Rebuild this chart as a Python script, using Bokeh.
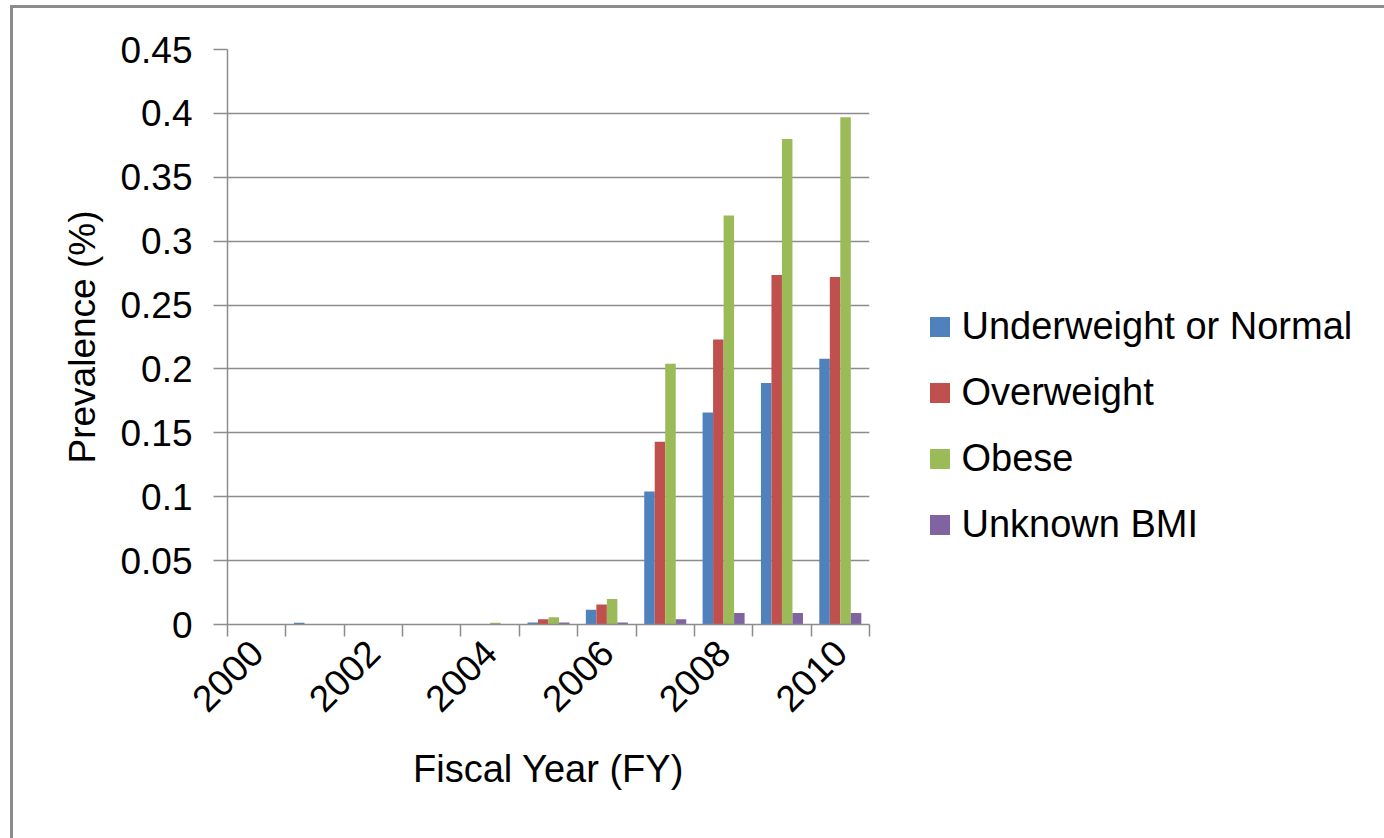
from bokeh.plotting import figure
from bokeh.layouts import row
from bokeh.models import (Range1d, FixedTicker, Legend, LegendItem, ColumnDataSource)
from bokeh.transform import dodge
from bokeh.embed import file_html
from bokeh.resources import INLINE

# ---- data ----
years = [2000, 2001, 2002, 2003, 2004, 2005, 2006, 2007, 2008, 2009, 2010]
underweight_normal = [0, 0.0013, 0, 0, 0, 0.0015, 0.0115, 0.104, 0.166, 0.189, 0.208]
overweight = [0, 0, 0, 0, 0, 0.0042, 0.0156, 0.143, 0.223, 0.2735, 0.272]
obese = [0, 0, 0, 0, 0.0013, 0.0057, 0.020, 0.204, 0.320, 0.380, 0.397]
unknown_bmi = [0, 0, 0, 0, 0, 0.0015, 0.0015, 0.0042, 0.009, 0.009, 0.009]

series_names = ["Underweight or Normal", "Overweight", "Obese", "Unknown BMI"]
series_colors = ["#4F81BD", "#C0504D", "#9BBB59", "#8064A2"]

y_ticks = [0, 0.05, 0.1, 0.15, 0.2, 0.25, 0.3, 0.35, 0.4, 0.45]
y_tick_labels = ["0", "0.05", "0.1", "0.15", "0.2", "0.25", "0.3", "0.35", "0.4", "0.45"]
x_label_years = years[::2]

FONT = "Liberation Sans"
FS = "37px"

source = ColumnDataSource(dict(year=years, s0=underweight_normal, s1=overweight,
                               s2=obese, s3=unknown_bmi))

OX, OY = 13, 8  # canvas offset in page due to margin + border
SPLIT = 900     # page x where the chart panel ends and the legend panel starts
p = figure(width=SPLIT - OX, height=838 - OY, output_backend="svg", toolbar_location=None,
           x_range=Range1d(years[0] - 0.5, years[-1] + 0.5),
           y_range=Range1d(y_ticks[0], y_ticks[-1]),
           min_border_left=227 - OX, min_border_right=SPLIT - 869, min_border_top=49 - OY,
           min_border_bottom=838 - 624)
p.outline_line_color = None
p.background_fill_color = "white"
p.border_fill_color = "white"

bar_w = 0.18
offsets = [-0.27, -0.09, 0.09, 0.27]
for i, (name, col) in enumerate(zip(series_names, series_colors)):
    p.vbar(x=dodge("year", offsets[i], range=p.x_range), top="s%d" % i,
           width=bar_w, source=source, fill_color=col, line_color=None)

# x axis
xa = p.xaxis[0]
xa.ticker = FixedTicker(ticks=x_label_years,
                        minor_ticks=[y - 0.5 for y in years] + [years[-1] + 0.5])
xa.major_tick_out = 0
xa.major_tick_in = 0
xa.minor_tick_out = 12
xa.minor_tick_in = 0
xa.minor_tick_line_color = "#8c8c8c"
xa.minor_tick_line_width = 1.5
xa.axis_line_color = "#8c8c8c"
xa.axis_line_width = 1.5
xa.major_label_orientation = 0.785398
xa.major_label_text_font = FONT
xa.major_label_text_font_size = FS
xa.major_label_text_color = "black"
xa.major_label_standoff = 10
xa.axis_label = "Fiscal Year (FY)"
xa.axis_label_text_font = FONT
xa.axis_label_text_font_size = "38px"
xa.axis_label_text_font_style = "normal"
xa.axis_label_text_color = "black"
xa.axis_label_standoff = 22

# y axis
ya = p.yaxis[0]
ya.ticker = FixedTicker(ticks=y_ticks, minor_ticks=[])
ya.major_label_overrides = dict(zip(y_ticks, y_tick_labels))
ya.major_tick_out = 14
ya.major_tick_in = 0
ya.major_tick_line_color = "#8c8c8c"
ya.major_tick_line_width = 1.5
ya.minor_tick_out = 0
ya.minor_tick_in = 0
ya.axis_line_color = "#8c8c8c"
ya.axis_line_width = 1.5
ya.major_label_text_font = FONT
ya.major_label_text_font_size = FS
ya.major_label_text_color = "black"
ya.major_label_standoff = 21
ya.axis_label = "Prevalence (%)"
ya.axis_label_text_font = FONT
ya.axis_label_text_font_size = FS
ya.axis_label_text_font_style = "normal"
ya.axis_label_text_color = "black"
ya.axis_label_standoff = 14

p.xgrid.visible = False
p.ygrid.ticker = FixedTicker(ticks=y_ticks)
p.ygrid.grid_line_color = "#8c8c8c"
p.ygrid.grid_line_width = 1.5

# ---- legend panel (a second, axis-less figure to the right; its frame is row-aligned) ----
pl = figure(width=1384 - SPLIT, height=838 - OY, output_backend="svg", toolbar_location=None,
            x_range=Range1d(0, 1), y_range=Range1d(0, 1),
            min_border_left=0, min_border_right=0, min_border_top=0, min_border_bottom=0)
pl.axis.visible = False
pl.grid.visible = False
pl.outline_line_color = None
pl.background_fill_color = "white"
pl.border_fill_color = "white"
# same series, but outside this panel's visible range: only their legend swatches show
leg_renderers = [pl.vbar(x="year", top="s%d" % i, width=bar_w, source=source,
                         fill_color=c, line_color=None)
                 for i, c in enumerate(series_colors)]

legend = Legend(items=[LegendItem(label=n, renderers=[r]) for n, r in zip(series_names, leg_renderers)],
                location=(926.5 - SPLIT, 624 - 545.5), orientation="vertical")
legend.border_line_color = None
legend.background_fill_alpha = 0
legend.padding = 0
legend.margin = 0
legend.spacing = 23
legend.glyph_width = 25
legend.glyph_height = 25
legend.label_standoff = 10
legend.label_text_font = FONT
legend.label_text_font_size = "38px"
legend.label_text_color = "black"
pl.add_layout(legend)

layout = row(p, pl, spacing=0, margin=(5, 0, 0, 10),
             styles={"border-top": "3px solid #8c8c8c", "border-left": "3px solid #8c8c8c"})

open("out.html", "w").write(file_html(layout, INLINE))
